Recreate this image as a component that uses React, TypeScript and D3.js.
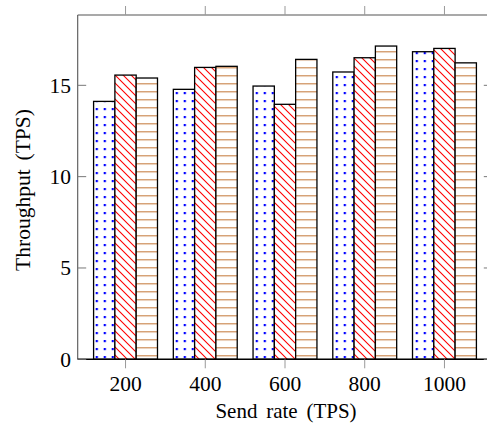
import React from "react";
import * as d3 from "d3";

// Send rates (x categories) and measured throughput for three configurations
const sendRates = [200, 400, 600, 800, 1000];
const seriesDots = [14.12, 14.78, 14.96, 15.73, 16.84];
const seriesDiag = [15.56, 15.98, 13.96, 16.51, 17.02];
const seriesHoriz = [15.4, 16.04, 16.42, 17.15, 16.23];
const yTicks = [0, 5, 10, 15];

const W = 487;
const H = 428;
const left = 77.7;
const right = 492.3;
const top = 15;
const bottom = 359.3;
const barW = 21.3;
const font = "'Liberation Serif', 'Times New Roman', serif";
const tickFont = 21.5;

export default function App() {
  const x = d3.scaleLinear().domain([80, 1120]).range([left, right]);
  const y = d3.scaleLinear().domain([0, 18.85]).range([bottom, top]);

  const series = [
    { values: seriesDots, fill: "url(#pDots)", offset: -1 },
    { values: seriesDiag, fill: "url(#pDiag)", offset: 0 },
    { values: seriesHoriz, fill: "url(#pHoriz)", offset: 1 },
  ];

  return (
    <svg
      width={W}
      height={H}
      style={{ position: "absolute", left: 0, top: 0, background: "#fff", fontFamily: font }}
    >
      <defs>
        <pattern id="pDots" patternUnits="userSpaceOnUse" width={8} height={8} x={-0.3} y={4}>
          <rect x={0} y={0} width={8} height={8} fill="#fff" />
          <rect x={0} y={0} width={2.2} height={2.2} fill="#0000ff" />
        </pattern>
        <pattern id="pDiag" patternUnits="userSpaceOnUse" width={8} height={8}>
          <rect x={0} y={0} width={8} height={8} fill="#fff" />
          <path d="M-2,-2 L10,10 M-10,-2 L2,10 M6,-2 L18,10" stroke="#ff0000" strokeWidth={1.1} />
        </pattern>
        <pattern id="pHoriz" patternUnits="userSpaceOnUse" width={8} height={8} y={3.3}>
          <rect x={0} y={0} width={8} height={8} fill="#fff" />
          <line x1={0} x2={8} y1={0.5} y2={0.5} stroke="#c47a3c" strokeWidth={1.1} />
        </pattern>
      </defs>

      {/* bars */}
      {series.map((s, si) =>
        s.values.map((v, i) => {
          const cx = x(sendRates[i]) + s.offset * barW;
          return (
            <rect
              key={`${si}-${i}`}
              x={cx - barW / 2}
              y={y(v)}
              width={barW}
              height={y(0) - y(v)}
              fill={s.fill}
              stroke="#000"
              strokeWidth={1.3}
            />
          );
        })
      )}

      {/* frame */}
      <line x1={left} x2={left} y1={top} y2={bottom} stroke="#555" strokeWidth={1.1} />
      <line x1={left} x2={right} y1={top} y2={top} stroke="#555" strokeWidth={1.1} />
      <line x1={right} x2={right} y1={top} y2={bottom} stroke="#555" strokeWidth={1.1} />
      <line x1={left} x2={right} y1={bottom} y2={bottom} stroke="#000" strokeWidth={1.4} />

      {/* x ticks */}
      {sendRates.map((r) => (
        <g key={r}>
          <line x1={x(r)} x2={x(r)} y1={bottom} y2={bottom + 9} stroke="#999" strokeWidth={1} />
          <line x1={x(r)} x2={x(r)} y1={top - 9} y2={top} stroke="#999" strokeWidth={1} />
          <text x={x(r)} y={391} textAnchor="middle" fontSize={tickFont} fill="#000">
            {r}
          </text>
        </g>
      ))}

      {/* y ticks */}
      {yTicks.map((t) => (
        <g key={t}>
          <line x1={left} x2={left + 8.5} y1={y(t)} y2={y(t)} stroke="#777" strokeWidth={1} />
          <line x1={right - 8.5} x2={right} y1={y(t)} y2={y(t)} stroke="#777" strokeWidth={1} />
          <text x={71} y={y(t)} dy="0.34em" textAnchor="end" fontSize={tickFont} fill="#000">
            {t}
          </text>
        </g>
      ))}

      {/* axis titles */}
      <text x={286} y={417.5} textAnchor="middle" fontSize={21} wordSpacing={3.5} fill="#000">
        Send rate (TPS)
      </text>
      <text
        transform="translate(29.5, 190) rotate(-90)"
        textAnchor="middle"
        fontSize={21.5}
        wordSpacing={3.5}
        fill="#000"
      >
        Throughput (TPS)
      </text>
    </svg>
  );
}
